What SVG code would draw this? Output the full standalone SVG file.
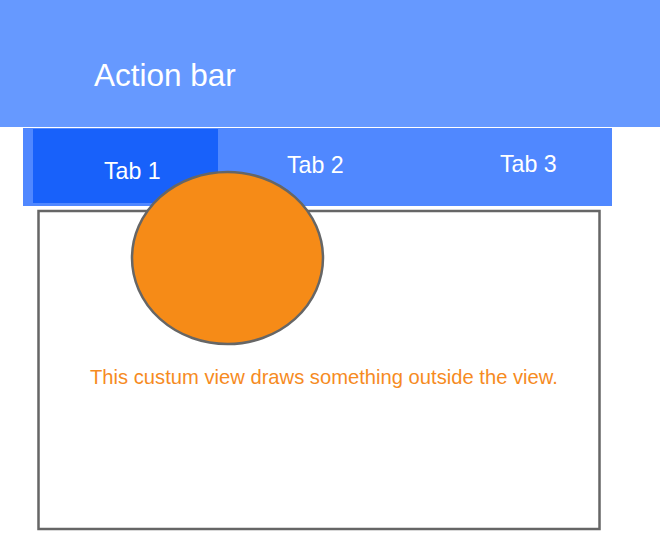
<svg xmlns="http://www.w3.org/2000/svg" width="660" height="557" viewBox="0 0 660 557">
<style>
.w{fill:#ffffff;font-family:"Liberation Sans",Arial,sans-serif}
.o{fill:#F68B1F;font-family:"Liberation Sans",Arial,sans-serif}
</style>
<rect width="660" height="557" fill="#ffffff"/>
<g id="action-bar">
<rect x="0" y="0" width="660" height="127" fill="#6699FF"/>
<text class="w" x="94" y="85.5" font-size="31.5">Action bar</text>
</g>
<g id="tab-bar">
<rect x="23" y="128" width="589" height="78" fill="#5088FF"/>
</g>
<g id="tab1">
<rect x="33" y="129" width="185" height="74" fill="#1861FA"/>
<text class="w" x="104" y="178.5" font-size="23.2">Tab 1</text>
</g>
<g id="tab2">
<text class="w" x="287" y="172.5" font-size="23.2">Tab 2</text>
</g>
<g id="tab3">
<text class="w" x="500" y="172" font-size="23.2">Tab 3</text>
</g>
<g id="custom-view">
<rect x="38.5" y="211" width="561" height="318" fill="#ffffff" stroke="#666666" stroke-width="2.5"/>
<text class="o" x="90" y="384" font-size="20.2">This custum view draws something outside the view.</text>
</g>
<g id="circle">
<ellipse cx="227.5" cy="258" rx="95.5" ry="86" fill="#F68B17" stroke="#666666" stroke-width="2.5"/>
</g>
<g id="connectors"/>
</svg>
